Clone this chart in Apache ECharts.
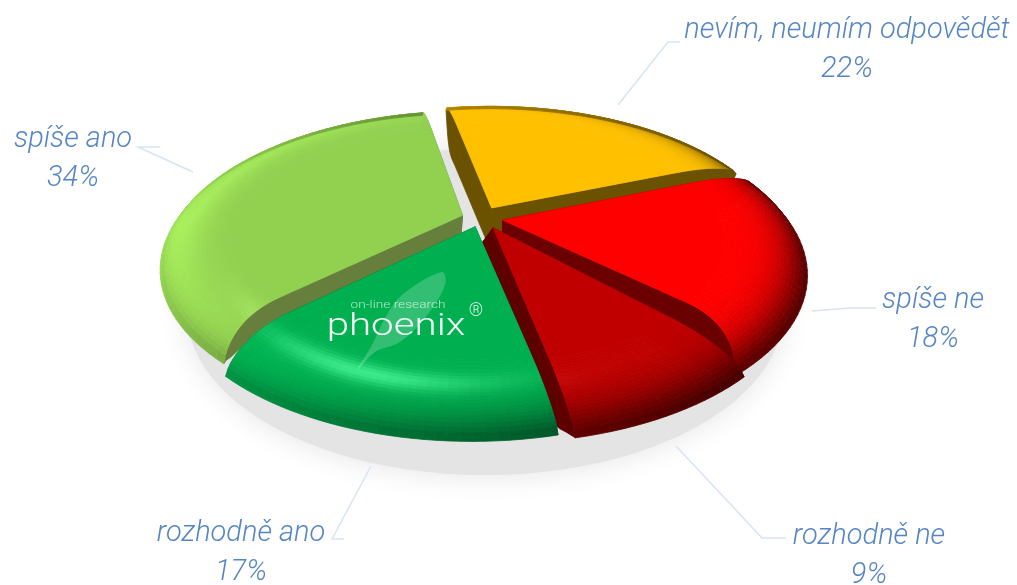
<!DOCTYPE html>
<html>
<head>
<meta charset="UTF-8">
<title></title>
<script src="https://cdn.jsdelivr.net/npm/echarts@6/dist/echarts.min.js" type="text/javascript" charset="utf-8"></script>
<style type="text/css">
	* { margin: 0; padding: 0; }
	html, body { background: #fff; }
	#app { width: 1017px; height: 585px; }
</style>
</head>
<body>
<div id="app"></div>
<script type="text/javascript">
// clockwise from the back of the pie
var categories = ['nevím, neumím odpovědět', 'spíše ne', 'rozhodně ne', 'rozhodně ano', 'spíše ano'];
var values = [22, 18, 9, 17, 34];

var topColors = ['#ffc000', '#ff0000', '#c00000', '#00b050', '#92d050'];
var sideColors = ['#6b5200', '#6a0000', '#5e0000', '#006030', '#667f3c'];
// pull of each slice on the pie plane, and how far its cut face hangs on screen
var pulls = [[0.023, -0.1], [0.06, -0.013], [0.027, 0.04], [-0.033, 0.033], [-0.077, -0.047]];
var sideDrops = [[0, 45], [0, 30], [-16, 22], [0, 20], [-2, 26]];
// degrees the two cut edges are turned overall, and how much more they lean at the rounded rim
var edgeLeans = [[0, 0], [0, 0], [3, 3], [2, 0], [0, 0]];
var edgeBends = [[0, 0], [0, 8], [1, 0], [0, -4], [-6, 0]];
var paintOrder = [0, 4, 1, 2, 3];
var startDeg = -11;

// label text position, then leader line
var labelPos = [[847, 11], [933, 281], [869, 517], [241, 514], [73, 120]];
var leaders = [
	[[680, 42], [668, 42], [618, 105]],
	[[876, 308], [850, 308], [812, 311]],
	[[786, 538], [762, 538], [676, 446]],
	[[344, 539], [332, 539], [371, 466]],
	[[160, 147], [138, 147], [193, 172]]
];

var CX = 485, CY = 222, RX = 295, RY = 144, P = 0.25, BEVEL_Z = 14, R0 = 0.74;
var total = values.reduce(function (a, b) { return a + b; }, 0);

function project(u, v, z) {
	var s = 1 / (1 - P * v);
	return [CX + RX * u * s, CY + RY * v * s + z * s];
}

function bevelAt(r) {
	return r <= R0 ? 0 : (r - R0) / (1 - R0);
}

function span(i) {
	var done = 0;
	for (var k = 0; k < i; k++) done += values[k];
	var from = startDeg + done / total * 360;
	return [from, from + values[i] / total * 360];
}

// r on the radius, f across the slice from its first edge to its last
function sliceDeg(i, r, f) {
	var sp = span(i), a = bevelAt(r);
	var lean = edgeLeans[i][0] * (1 - f) + edgeLeans[i][1] * f;
	var bend = edgeBends[i][0] * (1 - f) + edgeBends[i][1] * f;
	return sp[0] + (sp[1] - sp[0]) * f + lean + bend * a * a;
}

function point(i, r, f) {
	var t = sliceDeg(i, r, f) * Math.PI / 180;
	var a = bevelAt(r);
	return project(r * Math.sin(t) + pulls[i][0], -r * Math.cos(t) + pulls[i][1],
		BEVEL_Z * (1 - Math.sqrt(1 - a * a)));
}

function shade(hex, a, deg) {
	var t = deg * Math.PI / 180;
	var sx = Math.sin(t), sy = -Math.cos(t);
	var phi = a * a * a * Math.PI / 2;
	var d = (-0.75 * Math.sin(phi) * sx - 0.35 * Math.sin(phi) * sy + 0.65 * Math.cos(phi)) / 0.65 - 1;
	var k = d > 0 ? Math.min(1.15, 1 + d * 0.3) : 1 + d * 0.3;
	// the back of the rim falls away from the light
	k *= 1 - 0.3 * Math.pow(a, 4) * Math.max(0, -sy);
	// highlight band, only the front left of the rim catches it
	var sp = a * Math.PI / 2;
	var dot = -0.2 * Math.sin(sp) * sx + 0.55 * Math.sin(sp) * sy + 0.81 * Math.cos(sp);
	var spec = Math.pow(Math.max(0, dot), 40) * 60;
	var c = [1, 3, 5].map(function (p) {
		var n = parseInt(hex.substr(p, 2), 16) * k + spec;
		return Math.min(255, Math.round(n));
	});
	return 'rgb(' + c.join(',') + ')';
}

function polygon(pts, fill, z2) {
	return {
		type: 'polygon', z2: z2, silent: true,
		shape: { points: pts },
		style: { fill: fill, stroke: fill, lineWidth: 0.8 }
	};
}

function cutFace(i, f, z2) {
	var front = [], back = [];
	for (var n = 0; n <= 40; n++) {
		var r = n / 40;
		var p = point(i, r, f);
		var w = 1 - Math.pow(bevelAt(r), 5);
		front.push(p);
		back.unshift([p[0] + sideDrops[i][0] * w, p[1] + sideDrops[i][1] * w]);
	}
	return polygon(front.concat(back), sideColors[i], z2);
}

function renderSlice(params, api) {
	var i = params.dataIndex;
	var sp = span(i);
	var base = paintOrder.indexOf(i) * 5000 + 10;
	var children = [cutFace(i, 0, base), cutFace(i, 1, base + 1)];

	// flat part of the top
	var flat = [point(i, 0, 0)];
	var steps = Math.ceil((sp[1] - sp[0]) / 2);
	for (var s = 0; s <= steps; s++) flat.push(point(i, R0, s / steps));
	children.push(polygon(flat, topColors[i], base + 2));

	// rounded rim, small facets lit one by one
	var rings = 22, z2 = base + 3;
	for (var a = 0; a < rings; a++) {
		var r1 = R0 + (1 - R0) * a / rings, r2 = R0 + (1 - R0) * (a + 1) / rings;
		for (var b = 0; b < steps; b++) {
			var f1 = b / steps, f2 = (b + 1) / steps;
			children.push(polygon(
				[point(i, r1, f1), point(i, r1, f2), point(i, r2, f2), point(i, r2, f1)],
				shade(topColors[i], (a + 0.5) / rings, sliceDeg(i, r1, (f1 + f2) / 2)), z2++));
		}
	}
	return { type: 'group', children: children };
}

function shadowPoints() {
	var pts = [];
	for (var d = 0; d < 360; d += 3) {
		var t = d * Math.PI / 180;
		pts.push(project(0.98 * Math.sin(t), -0.98 * Math.cos(t), 50));
	}
	return pts;
}

var graphics = [{
	type: 'polygon', z: 0, silent: true,
	shape: { points: shadowPoints() },
	style: { fill: '#e4e4e4', shadowBlur: 30, shadowColor: '#e4e4e4' }
}];

leaders.forEach(function (pts) {
	graphics.push({
		type: 'polyline', z: 1, silent: true,
		shape: { points: pts },
		style: { fill: null, stroke: '#d9e3f3', lineWidth: 1.5 }
	});
});

categories.forEach(function (name, i) {
	graphics.push({
		type: 'text', z: 1, silent: true,
		x: labelPos[i][0], y: labelPos[i][1],
		style: {
			text: name + '\n' + values[i] + '%',
			fill: '#5585c5', font: 'italic 300 29px Roboto',
			lineHeight: 39, align: 'center', verticalAlign: 'top'
		}
	});
});

// phoenix logo on the green slice
graphics.push({
	type: 'polygon', z: 60, silent: true,
	shape: {
		smooth: 0.35,
		points: [[358, 369], [372, 345], [384, 320], [402, 295], [442, 272], [445, 285], [425, 318], [400, 342], [375, 352]]
	},
	style: { fill: 'rgba(255,255,255,0.2)' }
}, {
	type: 'text', z: 61, silent: true, x: 398, y: 305, scaleX: 1.3,
	style: { text: 'on-line research', fill: 'rgba(255,255,255,0.7)', font: '300 10.5px Roboto', align: 'center', verticalAlign: 'middle' }
}, {
	type: 'text', z: 61, silent: true, x: 396, y: 327, scaleX: 1.3,
	style: { text: 'phoenix', fill: '#f2fbf6', font: '300 31px Roboto', align: 'center', verticalAlign: 'middle' }
}, {
	type: 'text', z: 61, silent: true, x: 476, y: 311,
	style: { text: '®', fill: 'rgba(255,255,255,0.85)', font: '300 18px Roboto', align: 'center', verticalAlign: 'middle' }
});

var myChart = echarts.init(document.getElementById('app'));

var option = {
	animation: false,
	graphic: graphics,
	series: [{
		type: 'custom',
		coordinateSystem: 'none',
		z: 10,
		silent: true,
		renderItem: renderSlice,
		data: values.map(function (v) { return [v]; })
	}]
};

myChart.setOption(option);
</script>
</body>
</html>
